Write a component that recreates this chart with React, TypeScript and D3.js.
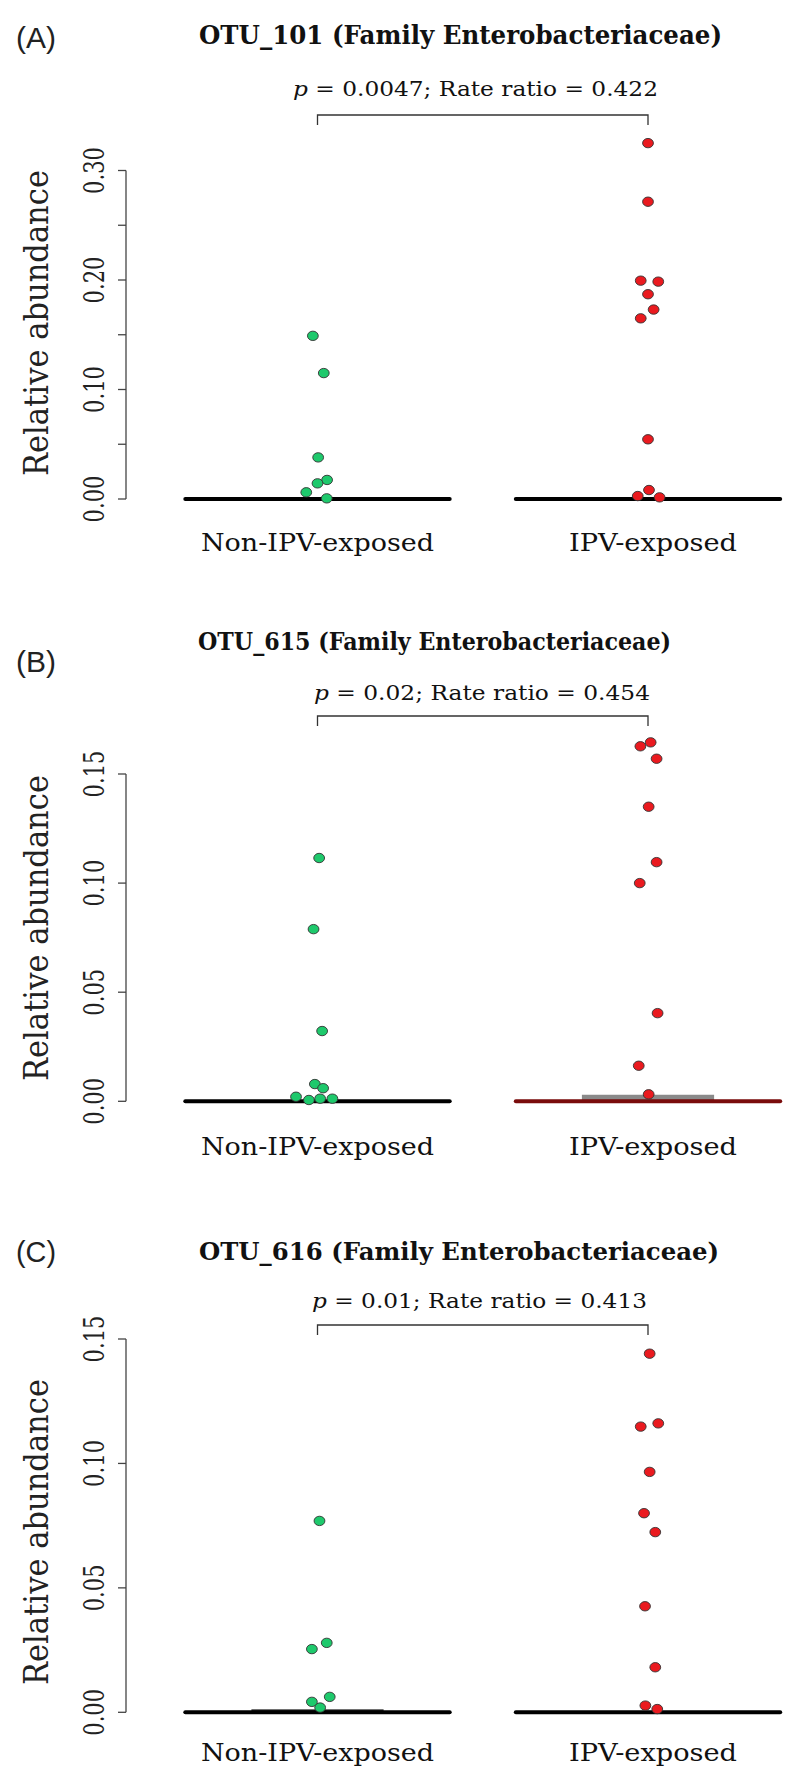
import React from "react";
import * as d3 from "d3";

// categories and panel texts
const groups = ["Non-IPV-exposed", "IPV-exposed"];
const panelTags = ["(A)", "(B)", "(C)"];
const otuTitles = [
  "OTU_101 (Family Enterobacteriaceae)",
  "OTU_615 (Family Enterobacteriaceae)",
  "OTU_616 (Family Enterobacteriaceae)",
];
const pValues = ["0.0047", "0.02", "0.01"];
const rateRatios = ["0.422", "0.454", "0.413"];
const yAxisMax = [0.3, 0.15, 0.15];
const yLabelStep = [0.1, 0.05, 0.05];
const yTickStep = 0.05;

// OTU_101 relative abundance (jitter in group units)
const otu101Non = [0.149, 0.115, 0.038, 0.0174, 0.0143, 0.0061, 0.0006];
const otu101NonJit = [-0.014, 0.019, 0.002, 0.029, 0, -0.034, 0.028];
const otu101Ipv = [0.325, 0.2715, 0.1994, 0.1985, 0.187, 0.173, 0.165, 0.0545, 0.0082, 0.0027, 0.0015];
const otu101IpvJit = [0, 0, -0.022, 0.031, 0, 0.017, -0.022, 0, 0.003, -0.031, 0.035];

// OTU_615
const otu615Non = [0.1115, 0.0789, 0.0322, 0.0079, 0.006, 0.0021, 0.0012, 0.0012, 0.0006];
const otu615NonJit = [0.005, -0.012, 0.014, -0.008, 0.017, -0.065, 0.008, 0.045, -0.026];
const otu615Ipv = [0.1627, 0.1645, 0.157, 0.135, 0.1096, 0.1, 0.0404, 0.0163, 0.0032];
const otu615IpvJit = [-0.023, 0.008, 0.026, 0.002, 0.026, -0.025, 0.029, -0.028, 0.002];

// OTU_616
const otu616Non = [0.0769, 0.0279, 0.0254, 0.0062, 0.0042, 0.0019];
const otu616NonJit = [0.006, 0.028, -0.017, 0.037, -0.017, 0.008];
const otu616Ipv = [0.1441, 0.1148, 0.1161, 0.0966, 0.08, 0.0724, 0.0426, 0.0181, 0.0027, 0.0013];
const otu616IpvJit = [0.005, -0.022, 0.031, 0.005, -0.012, 0.022, -0.009, 0.022, -0.008, 0.028];

// upper quartile of each group's box (medians are all 0)
const otu101Q3 = [0, 0];
const otu615Q3 = [0, 0.003];
const otu616Q3 = [0.0012, 0];

const panelValues = [
  [otu101Non, otu101Ipv],
  [otu615Non, otu615Ipv],
  [otu616Non, otu616Ipv],
];
const panelJitter = [
  [otu101NonJit, otu101IpvJit],
  [otu615NonJit, otu615IpvJit],
  [otu616NonJit, otu616IpvJit],
];
const panelQ3 = [otu101Q3, otu615Q3, otu616Q3];

// page layout for each panel (pixels)
const layout = [
  { zero: 499, top: 170.5, tagY: 48, titleY: 44, titleX0: 199, titleW: 523, titleFs: 26, pY: 96, pX0: 293, pW: 365, bracketY: 115, catY: 551, labelY: 323 },
  { zero: 1101.3, top: 774, tagY: 672, titleY: 650, titleX0: 198, titleW: 473, titleFs: 24, pY: 700, pX0: 314, pW: 336, bracketY: 716, catY: 1155, labelY: 928 },
  { zero: 1712.3, top: 1339, tagY: 1262, titleY: 1260, titleX0: 199, titleW: 520, titleFs: 25, pY: 1308, pX0: 312, pW: 335, bracketY: 1325, catY: 1761, labelY: 1532 },
];

const W = 800;
const H = 1791;
const serif = "'DejaVu Serif', 'Liberation Serif', serif";
const sans = "'Liberation Sans', Arial, sans-serif";
const green = "#1ec96c";
const red = "#ea1a1f";

const x = d3.scaleLinear().domain([1, 2]).range([317.5, 648]);
const axisX = 126;

function Panel({ i }: { i: number }) {
  const L = layout[i];
  const y = d3.scaleLinear().domain([0, yAxisMax[i]]).range([L.zero, L.top]);
  const ticks = d3.range(0, yAxisMax[i] + 1e-9, yTickStep);
  const isLabelled = (v: number) => Math.abs(v / yLabelStep[i] - Math.round(v / yLabelStep[i])) < 1e-6;

  return (
    <g>
      <text x={16} y={L.tagY} fontFamily={sans} fontSize={29} textLength={40} lengthAdjust="spacingAndGlyphs" fill="#222">
        {panelTags[i]}
      </text>
      <text x={L.titleX0} y={L.titleY} fontFamily={serif} fontWeight="bold" fontSize={L.titleFs}
        textLength={L.titleW} lengthAdjust="spacingAndGlyphs" fill="#111">
        {otuTitles[i]}
      </text>
      <text x={L.pX0} y={L.pY} fontFamily={serif} fontSize={21} textLength={L.pW} lengthAdjust="spacingAndGlyphs" fill="#111">
        <tspan fontStyle="italic">p</tspan>
        {` = ${pValues[i]}; Rate ratio = ${rateRatios[i]}`}
      </text>
      <path
        d={`M${x(1)},${L.bracketY + 10}V${L.bracketY}H${x(2)}V${L.bracketY + 10}`}
        fill="none" stroke="#333" strokeWidth={1.3}
      />

      {/* y axis */}
      <line x1={axisX} x2={axisX} y1={y(0)} y2={y(yAxisMax[i])} stroke="#444" strokeWidth={1.3} />
      {ticks.map((t) => (
        <line key={t} x1={axisX - 8} x2={axisX} y1={y(t)} y2={y(t)} stroke="#444" strokeWidth={1.3} />
      ))}
      {ticks.filter(isLabelled).map((t) => (
        <text key={"l" + t} transform={`translate(104,${y(t)}) scale(1.2,1) rotate(-90)`} textAnchor="middle"
          fontFamily={serif} fontSize={23} textLength={47} lengthAdjust="spacingAndGlyphs" fill="#222">
          {t.toFixed(2)}
        </text>
      ))}
      <text transform={`translate(48,${L.labelY}) rotate(-90)`} textAnchor="middle" fontFamily={serif} fontSize={33}
        textLength={306} lengthAdjust="spacingAndGlyphs" fill="#222">
        Relative abundance
      </text>

      {/* boxes and median lines */}
      {groups.map((g, gi) => {
        const q3 = panelQ3[i][gi];
        const boxFill = i === 1 ? "#8a8a8a" : "#333";
        const medColor = i === 1 && gi === 1 ? "#7a0c0c" : "#000";
        return (
          <g key={g}>
            {q3 > 0 && (
              <rect x={x(gi + 1 - 0.2)} width={x(gi + 1.2) - x(gi + 0.8)} y={y(q3)} height={y(0) - y(q3)} fill={boxFill} />
            )}
            <line x1={x(gi + 1 - 0.4)} x2={x(gi + 1 + 0.4)} y1={y(0)} y2={y(0)} stroke={medColor} strokeWidth={4} strokeLinecap="round" />
          </g>
        );
      })}

      {/* points */}
      {groups.map((g, gi) =>
        panelValues[i][gi].map((v, k) => (
          <ellipse key={g + k} cx={x(gi + 1 + panelJitter[i][gi][k])} cy={y(v)} rx={5.4} ry={4.7}
            fill={gi === 0 ? green : red} stroke="#333" strokeWidth={0.9} />
        ))
      )}

      {/* category labels */}
      {groups.map((g, gi) => (
        <text key={"c" + g} x={gi === 0 ? x(1) : x(2) + 5} y={L.catY} textAnchor="middle" fontFamily={serif} fontSize={25}
          textLength={gi === 0 ? 233 : 168} lengthAdjust="spacingAndGlyphs" fill="#111">
          {g}
        </text>
      ))}
    </g>
  );
}

export default function App() {
  return (
    <svg width={W} height={H} style={{ position: "absolute", left: 0, top: 0, background: "#fff" }}>
      <rect width={W} height={H} fill="#fff" />
      {[0, 1, 2].map((i) => (
        <Panel key={i} i={i} />
      ))}
    </svg>
  );
}
